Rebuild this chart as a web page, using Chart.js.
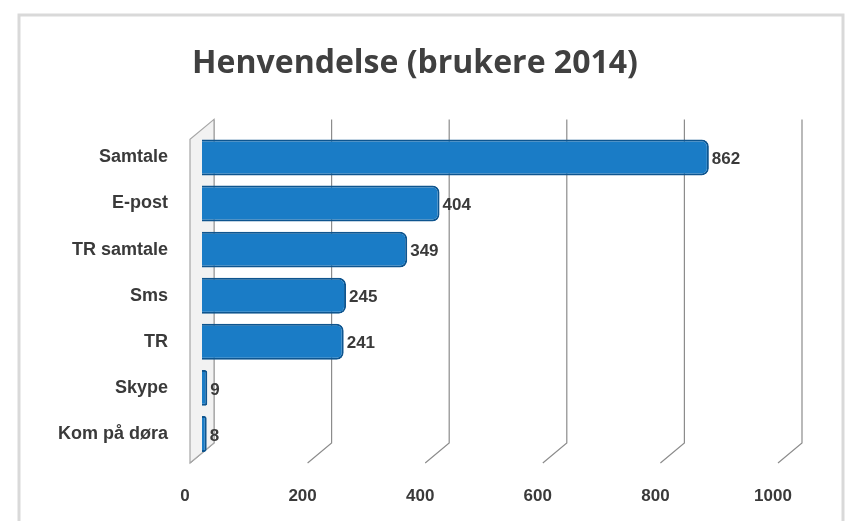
<!DOCTYPE html>
<html>
<head>
<meta charset="utf-8">
<script src="https://cdn.jsdelivr.net/npm/chart.js@4"></script>
<style>
html,body{margin:0;padding:0;background:#fff;}
#wrap{width:861px;height:521px;position:relative;}
</style>
</head>
<body>
<div id="wrap"><canvas id="c" width="861" height="521"></canvas></div>
<script>
const categories = ["Samtale", "E-post", "TR samtale", "Sms", "TR", "Skype", "Kom på døra"];
const values = [862, 404, 349, 245, 241, 9, 8];
const tickValues = [0, 200, 400, 600, 800, 1000];
const titleText = "Henvendelse (brukere 2014)";

const DEPTH_X = 12;

const decor = {
  id: 'decor',
  beforeDraw(chart) {
    const ctx = chart.ctx, ca = chart.chartArea, xs = chart.scales.x;
    ctx.save();
    ctx.strokeStyle = '#d9d9d9';
    ctx.lineWidth = 3;
    ctx.strokeRect(19, 15, 824, 520);
    ctx.strokeStyle = '#8c8c8c';
    ctx.lineWidth = 1.2;
    tickValues.forEach(v => {
      const px = xs.getPixelForValue(v);
      const bx = px + DEPTH_X;
      const fx = px - DEPTH_X;
      ctx.beginPath();
      ctx.moveTo(bx, ca.top - 15);
      ctx.lineTo(bx, ca.bottom - 14);
      ctx.lineTo(fx, ca.bottom + 6);
      ctx.stroke();
    });
    const p0 = xs.getPixelForValue(0);
    ctx.strokeStyle = '#a6a6a6';
    ctx.fillStyle = '#f2f2f2';
    ctx.beginPath();
    ctx.moveTo(p0 + DEPTH_X, ca.top - 15);
    ctx.lineTo(p0 - DEPTH_X, ca.top + 5);
    ctx.lineTo(p0 - DEPTH_X, ca.bottom + 6);
    ctx.lineTo(p0 + DEPTH_X, ca.bottom - 14);
    ctx.closePath();
    ctx.fill();
    ctx.stroke();
    ctx.restore();
  },
  afterDatasetsDraw(chart) {
    const ctx = chart.ctx;
    const meta = chart.getDatasetMeta(0);
    ctx.save();
    ctx.font = 'bold 17px "Liberation Sans", Arial, sans-serif';
    ctx.fillStyle = '#3a3a3a';
    ctx.textBaseline = 'middle';
    ctx.textAlign = 'left';
    meta.data.forEach((bar, i) => {
      ctx.fillText(String(values[i]), bar.x + 3, bar.y + 2);
    });
    ctx.restore();
  }
};

new Chart(document.getElementById('c'), {
  type: 'bar',
  data: {
    labels: categories,
    datasets: [{
      data: values,
      backgroundColor: '#1a7cc6',
      borderColor: '#0e558f',
      borderWidth: 2,
      borderRadius: 7,
      borderSkipped: 'start',
      barPercentage: 0.78,
      categoryPercentage: 1.0
    }]
  },
  options: {
    indexAxis: 'y',
    responsive: false,
    animation: false,
    layout: { padding: { left: 40, right: 71, top: 0, bottom: 0 } },
    plugins: {
      legend: { display: false },
      tooltip: { enabled: false },
      title: {
        display: true,
        text: titleText,
        color: '#404040',
        font: { family: '"Open Sans", "Liberation Sans", sans-serif', size: 32, weight: 'bold' },
        padding: { top: 45, bottom: 51 }
      }
    },
    scales: {
      x: {
        min: 0, max: 1000,
        afterBuildTicks(scale) { scale.ticks = tickValues.map(v => ({ value: v })); },
        afterFit(scale) { scale.height = 64; },
        grid: { display: false },
        border: { display: false },
        ticks: {
          color: '#3a3a3a',
          padding: 21,
          labelOffset: -17,
          callback: (v) => String(v),
          font: { family: '"Liberation Sans", Arial, sans-serif', size: 17, weight: 'bold' }
        }
      },
      y: {
        afterFit(scale) { scale.width = 162; },
        grid: { display: false },
        border: { display: false },
        ticks: {
          color: '#3a3a3a',
          padding: 26,
          font: { family: '"Liberation Sans", Arial, sans-serif', size: 18, weight: 'bold' }
        }
      }
    }
  },
  plugins: [decor]
});
</script>
</body>
</html>
